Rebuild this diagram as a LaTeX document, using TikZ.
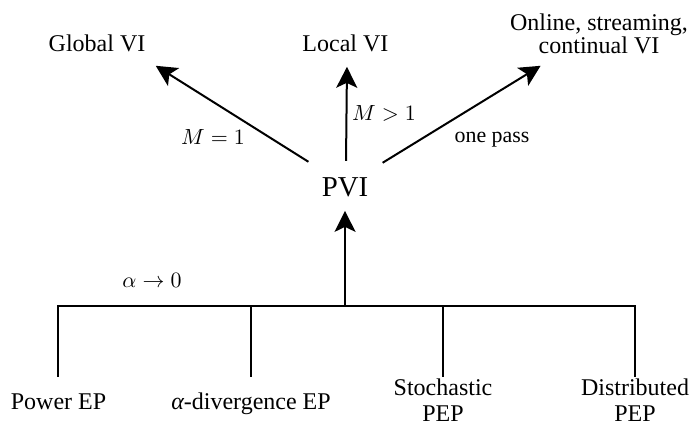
\documentclass[tikz,border=0pt]{standalone}
\usepackage{fontspec}
\setmainfont{Liberation Serif}
\usetikzlibrary{arrows.meta}
\begin{document}
\begin{tikzpicture}[
  txt/.style={inner sep=0pt,anchor=base,align=center,font=\fontsize{12}{14}\selectfont},
  lbl/.style={inner sep=0pt,anchor=base,font=\fontsize{10.95}{13}\selectfont},
  arr/.style={line width=1pt,-{Stealth[length=10.5pt,width=10.5pt,inset=2.5pt]}},
  branch/.style={line width=1pt}
]
\useasboundingbox (0,0) rectangle (12.143,7.469) ;
\node [txt,font=\fontsize{14.4}{17}\selectfont] (PVI) at (6.063,4.024) {PVI} ;
\node [txt] (G) at (1.705,6.572) {Global VI} ;
\node [txt] (L) at (6.071,6.572) {Local VI} ;
\node [txt] (O) at (10.526,6.537) {Online, streaming,\\[-2.5pt] continual VI} ;
\node [txt] (P) at (1.028,0.281) {Power EP} ;
\node [txt] (A) at (4.411,0.281) {{\itshape α}-divergence EP} ;
\node [txt] (S) at (7.785,0.07) {Stochastic\\[-1pt] PEP} ;
\node [txt] (D) at (11.159,0.07) {Distributed\\[-1pt] PEP} ;
\coordinate (F) at (0,0.844) ;
\coordinate (J) at ([yshift=-54.5pt] PVI.south) ;
% upwards
\draw [arr] ([xshift=-6.5pt,yshift=7.5pt] PVI.north west) -- ([xshift=5pt,yshift=-7pt] G.south east) ;
\node [lbl] at (3.743,4.938) {$M=1$} ;
\draw [arr] ([xshift=0.5pt,yshift=8pt] PVI.north) -- ([xshift=0.75pt,yshift=-7.5pt] L.south) ;
\node [lbl] at (6.748,5.360) {$M>1$} ;
\draw [arr] ([xshift=7pt,yshift=7pt] PVI.north east) -- ([xshift=15.5pt,yshift=-6pt] O.south west) ;
\node [lbl] at (8.646,4.956) {one pass} ;
% tree below
\draw [branch] (P |- F) |- (J) -| (D |- F) ;
\draw [branch] (A |- F) -- (A |- J) ;
\draw [branch] (S |- F) -- (S |- J) ;
\draw [arr] (J) -- ([yshift=-7pt] PVI.south) ;
\node [lbl] at (2.671,2.425) {$\alpha\to0$} ;
\end{tikzpicture}
\end{document}
